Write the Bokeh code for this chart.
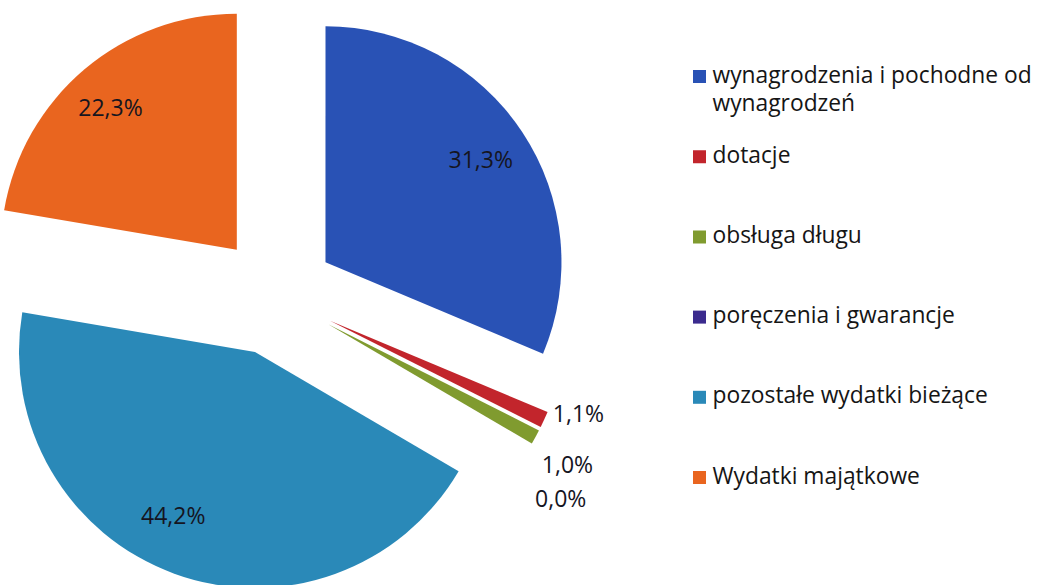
import math
from bokeh.plotting import figure
from bokeh.models import Range1d, ColumnDataSource
from bokeh.core.properties import value
from bokeh.embed import file_html
from bokeh.resources import INLINE

# ---- data ----
categories = ["wynagrodzenia i pochodne od\nwynagrodzeń", "dotacje", "obsługa długu",
              "poręczenia i gwarancje", "pozostałe wydatki bieżące", "Wydatki majątkowe"]
shares = [31.3, 1.1, 1.0, 0.0, 44.2, 22.3]
labels = ["31,3%", "1,1%", "1,0%", "0,0%", "44,2%", "22,3%"]
colors = ["#2952B5", "#C2252C", "#809B2F", "#3B2B8E", "#2A89B8", "#E9651F"]

# ---- layout / style ----
W, H = 1037, 585
CX, CY = 275, -295          # pie centre (y up, page pixels)
R = 236                     # pie radius
EXPLODE = 60                # explosion distance
FONT = "Open Sans"
INSIDE_F = 0.79
label_dx = [0, 0, -2, -4, -18, -6]
label_dy = [0, -10, 22, 48, -12, 0]

p = figure(width=W, height=H, output_backend="svg", toolbar_location=None,
           x_range=Range1d(0, W), y_range=Range1d(-H, 0),
           min_border=0)
p.axis.visible = False
p.grid.visible = False
p.outline_line_color = None
p.background_fill_color = "white"

total = sum(shares)
cum = 0.0
xs, ys, sa, ea, wc = [], [], [], [], []
lx, ly, ltxt, lalign = [], [], [], []
for i, s in enumerate(shares):
    t0 = cum / total * 2 * math.pi
    cum += s
    t1 = cum / total * 2 * math.pi
    mid = (t0 + t1) / 2
    ax = CX + EXPLODE * math.sin(mid)
    ay = CY + EXPLODE * math.cos(mid)
    if s > 0:
        xs.append(ax); ys.append(ay)
        sa.append(math.pi / 2 - t0); ea.append(math.pi / 2 - t1)
        wc.append(colors[i])
    f = INSIDE_F if s >= 5 else 1.04
    lx.append(ax + f * R * math.sin(mid) + label_dx[i])
    ly.append(ay + f * R * math.cos(mid) - label_dy[i])
    lalign.append("center" if s >= 5 else "left")
    ltxt.append(labels[i])

src = ColumnDataSource(dict(x=xs, y=ys, sa=sa, ea=ea, color=wc))
p.wedge(x="x", y="y", radius=R, start_angle="sa", end_angle="ea",
        direction="clock", fill_color="color", line_color=None, source=src)

lsrc = ColumnDataSource(dict(x=lx, y=ly, t=ltxt, a=lalign))
p.text(x="x", y="y", text="t", text_align="a", text_baseline="middle",
       text_font=value(FONT), text_font_size="23px", text_color="#15151f",
       source=lsrc)

# ---- legend ----
LEG_X, LEG_Y0, LEG_STEP, SQ = 699, -76, -80.2, 13
gx = [LEG_X] * len(categories)
gy = [LEG_Y0 + i * LEG_STEP for i in range(len(categories))]
gsrc = ColumnDataSource(dict(x=gx, y=gy, tx=[v + 13 for v in gx], ty=[v + 18 for v in gy],
                             t=categories, color=colors))
p.rect(x="x", y="y", width=SQ, height=SQ, fill_color="color", line_color=None, source=gsrc)
p.text(x="tx", y="ty", text="t", text_align="left", text_baseline="top",
       text_font=value(FONT), text_font_size="22.8px", text_color="#151515",
       text_line_height=0.93, source=gsrc)

open("out.html", "w").write(file_html(p, INLINE))
